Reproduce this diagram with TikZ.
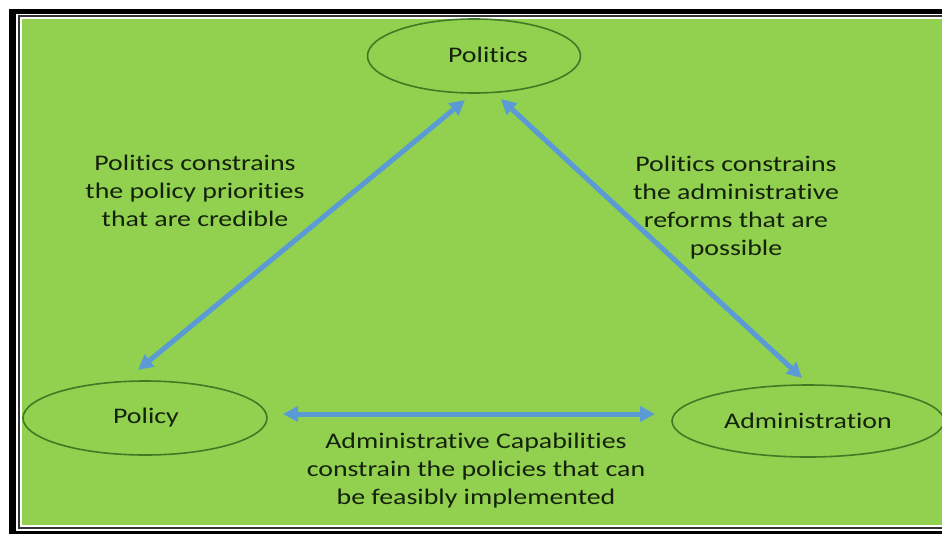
\documentclass[tikz,border=0pt]{standalone}
\usepackage{graphicx}
\usepackage{fontspec}
\setmainfont{Carlito}[Ligatures=NoCommon]
\usetikzlibrary{shapes.geometric,arrows.meta}

\definecolor{leaf}{HTML}{92D050}
\definecolor{rim}{HTML}{3E7B24}
\definecolor{flow}{HTML}{5B9BD5}
\definecolor{ink}{HTML}{14220C}

% wide, centred multi-line label text
\newcommand\wtext[1]{\scalebox{1.25}[1]{\begin{tabular}{@{}c@{}}#1\end{tabular}}}

\tikzset{
  oval/.style={ellipse, draw=rim, line width=1.6pt, inner sep=0pt, outer sep=0pt},
  lbl/.style={text=ink, font=\fontsize{22.3}{28.2}\selectfont, inner sep=0pt},
  link/.style={draw=flow, line width=5pt,
    {Triangle[length=15pt,width=15pt]}-{Triangle[length=15pt,width=15pt]}},
}

\begin{document}
\begin{tikzpicture}[x=1pt,y=-1pt]
  \useasboundingbox (0,0) rectangle (942,533);
  \clip (0,0) rectangle (942,533);

  % page and double frame
  \fill[white] (0,0) rectangle (942,533);
  \fill[black] (9,9) rectangle (960,550);
  \fill[white] (16,14) rectangle (960,530.5);
  \fill[black!80] (17.8,15.4) rectangle (960,529.2);
  \fill[white] (19.8,17.2) rectangle (960,527.2);
  \fill[leaf] (21.8,19) rectangle (960,524.6);

  % the three ellipses
  \node[oval, minimum width=213pt, minimum height=74pt] (politics) at (474,56) {};
  \node[oval, minimum width=244pt, minimum height=74pt] (policy) at (145,418) {};
  \node[oval, minimum width=272pt, minimum height=72pt] (admin) at (808,421) {};

  % their labels
  \node[lbl, anchor=base] (politicsT) at (488,62.5) {\wtext{Politics}};
  \node[lbl, anchor=base] (policyT) at (146,423) {\wtext{Policy}};
  \node[lbl, anchor=base] (adminT) at (808,428) {\wtext{Administration}};

  % arrow ends
  \coordinate (pL) at (465,100);
  \coordinate (pR) at (501,99);
  \coordinate (poU) at (138,370);
  \coordinate (poR) at (283,414);
  \coordinate (adU) at (802,378);
  \coordinate (adL) at (655,414);

  \draw[link] (poU) -- (pL);
  \draw[link] (pR) -- (adU);
  \draw[link] (poR) -- (adL);

  % relation texts
  \node[lbl] (leftT) at (195,193)
    {\wtext{Politics constrains\\the policy priorities\\that are credible}};
  \node[lbl] (rightT) at (736,208)
    {\wtext{Politics constrains\\the administrative\\reforms that are\\possible}};
  \node[lbl] (bottomT) at (476,471)
    {\wtext{Administrative Capabilities\\constrain the policies that can\\be feasibly implemented}};
\end{tikzpicture}
\end{document}
